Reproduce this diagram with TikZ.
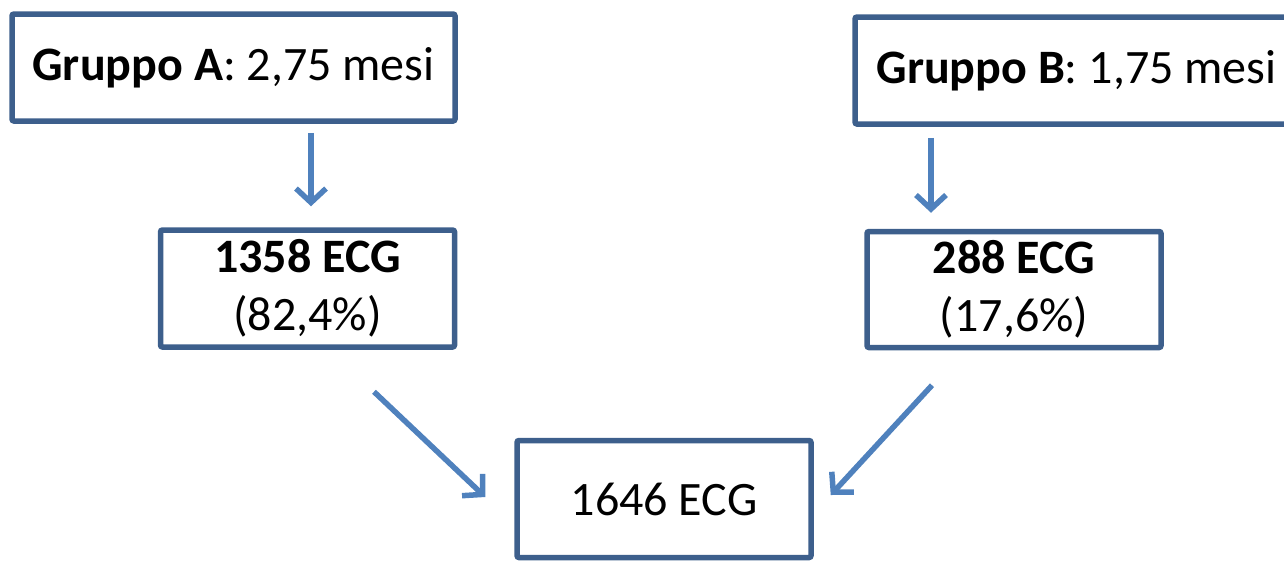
\documentclass[tikz,border=0pt]{standalone}
\usepackage{fontspec}
\setmainfont{Carlito}
\usepackage{tikz}
\usetikzlibrary{arrows.meta}
\usepackage{xcolor}
\definecolor{ecgborder}{HTML}{3D5F8C}
\definecolor{ecgarrowcol}{HTML}{4F81BD}
\tikzset{
    ecgbox/.style={draw=ecgborder, line width=5.5pt, rounded corners=2pt, fill=white, align=center, inner sep=0pt, font=\fontsize{48}{58}\selectfont, minimum width=294pt, minimum height=117pt},
    ecgwide/.style={ecgbox, minimum width=443pt, minimum height=107pt},
    ecgarrow/.style={draw=ecgarrowcol, line width=5.5pt, -{Straight Barb[length=14pt,width=30pt]}}
}
\begin{document}
\begin{tikzpicture}[x=1pt, y=-1pt]
        \useasboundingbox (0,0) rectangle (1284,560);
        \node[ecgwide] (grA) at (233.5,67.5) {\textbf{Gruppo A}: 2,75 mesi};
        \node[ecgwide] (grB) at (1076.5,70.5) {\textbf{Gruppo B}: 1,75 mesi};
        \node[ecgbox] (n1358) at (307.5,288.5) {\textbf{1358 ECG}\\(82,4\%)};
        \node[ecgbox, minimum height=116pt] (n288) at (1014,289.5) {\textbf{288 ECG}\\(17,6\%)};
        \node[ecgbox] (n1646) at (664,499) {1646 ECG};

        \draw[ecgarrow] ([xshift=3.5pt,yshift=-9pt]n1358.north |- grA.south) -- ([xshift=3.5pt,yshift=21pt]n1358.north);
        \draw[ecgarrow] ([xshift=-83pt,yshift=-11pt]n288.north |- grB.south) -- ([xshift=-83pt,yshift=16pt]n288.north);
        \draw[ecgarrow] ([xshift=66.5pt,yshift=-42pt]n1358.south) -- ([xshift=-29pt,yshift=2pt]n1646.west);
        \draw[ecgarrow] ([xshift=-82pt,yshift=-35pt]n288.south) -- ([xshift=17pt,yshift=4pt]n1646.east);
    \end{tikzpicture}
\end{document}
